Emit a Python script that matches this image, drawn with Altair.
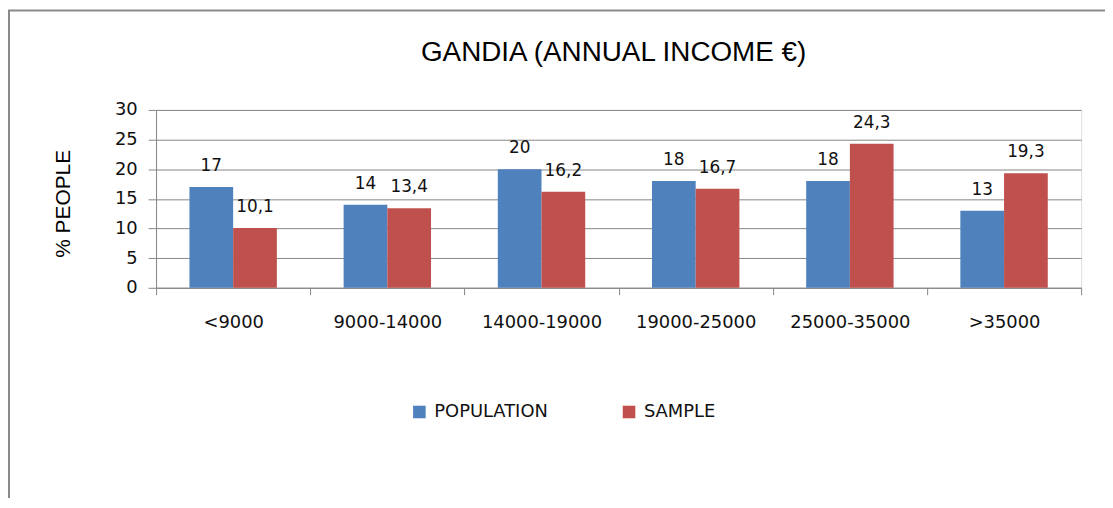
import altair as alt
import pandas as pd

categories = ["<9000", "9000-14000", "14000-19000", "19000-25000", "25000-35000", ">35000"]
series_names = ["POPULATION", "SAMPLE"]
population = [17, 14, 20, 18, 18, 13]
sample = [10.1, 13.4, 16.2, 16.7, 24.3, 19.3]
y_ticks = [0, 5, 10, 15, 20, 25, 30]
colors = ["#4F81BD", "#C0504D"]

rows = []
for c, p, s in zip(categories, population, sample):
    for name, v in ((series_names[0], p), (series_names[1], s)):
        rows.append({"category": c, "series": name, "value": v,
                     "label": (f"{v:g}").replace(".", ",")})
df = pd.DataFrame(rows)

W, H = 931, 179
TICK_FONT = "DejaVu Sans"
GRAY = "#868686"

x_enc = alt.X("category:N", sort=categories,
              scale=alt.Scale(paddingInner=0, paddingOuter=0),
              axis=alt.Axis(title=None, tickBand="extent", labelFont=TICK_FONT,
                            labelFontSize=18, labelColor="#111", labelAngle=0,
                            tickSize=7, tickColor=GRAY, domainColor=GRAY,
                            labelPadding=19, grid=False))
xoff = alt.XOffset("series:N", sort=series_names,
                   scale=alt.Scale(paddingInner=0, paddingOuter=0.764))
y_enc = alt.Y("value:Q",
              scale=alt.Scale(domain=[0, 30], nice=False),
              axis=alt.Axis(title="% PEOPLE", values=y_ticks, tickCount=len(y_ticks),
                            labelOverlap=False, labelFont=TICK_FONT,
                            labelFontSize=18, labelColor="#111", tickSize=8,
                            tickColor=GRAY, domainColor=GRAY, gridColor=GRAY,
                            labelPadding=11, titleFont="Liberation Sans",
                            titleFontSize=21, titleFontWeight="normal",
                            titleColor="#000", titleAngle=270, titleX=-87,
                            titleY=94, titleAlign="center",
                            titleBaseline="alphabetic"))

bars = alt.Chart(df).mark_bar().encode(
    x=x_enc, xOffset=xoff, y=y_enc,
    color=alt.Color("series:N", sort=series_names,
                    scale=alt.Scale(domain=series_names, range=colors),
                    legend=alt.Legend(title=None, orient="none", direction="horizontal",
                                      legendX=256, legendY=295, symbolType="square",
                                      symbolSize=160, symbolStrokeWidth=0,
                                      labelFont=TICK_FONT, labelFontSize=18,
                                      labelColor="#111", labelOffset=6,
                                      columnPadding=72, padding=0)),
)

labels = alt.Chart(df).mark_text(font=TICK_FONT, fontSize=17, color="#111",
                                 baseline="alphabetic", dy=-16).encode(
    x=alt.X("category:N", sort=categories), xOffset=alt.XOffset("series:N", sort=series_names),
    y="value:Q", text="label:N")

frame_data = alt.Data(values=[{"k": 1}])
left_border = alt.Chart(frame_data).mark_rule(color="#8a8a8a", strokeWidth=2).encode(
    x=alt.value(-148), y=alt.value(-100), y2=alt.value(420))
top_border = alt.Chart(frame_data).mark_rule(color="#8a8a8a", strokeWidth=2).encode(
    x=alt.value(-149), x2=alt.value(960), y=alt.value(-100))

chart = alt.layer(left_border, top_border, bars, labels).properties(
    width=W, height=H,
    title=alt.TitleParams("GANDIA (ANNUAL INCOME €)", font="Liberation Sans",
                          fontSize=28, fontWeight="normal", color="#000",
                          anchor="middle", offset=0, baseline="alphabetic",
                          dy=80, dx=-5),
    autosize=alt.AutoSizeParams(type="none"),
    padding={"left": 149, "top": 101, "right": 24, "bottom": 210},
).configure_view(stroke=None).configure(background="white")

chart.save("out.html", embed_options={"renderer": "svg", "actions": False})
